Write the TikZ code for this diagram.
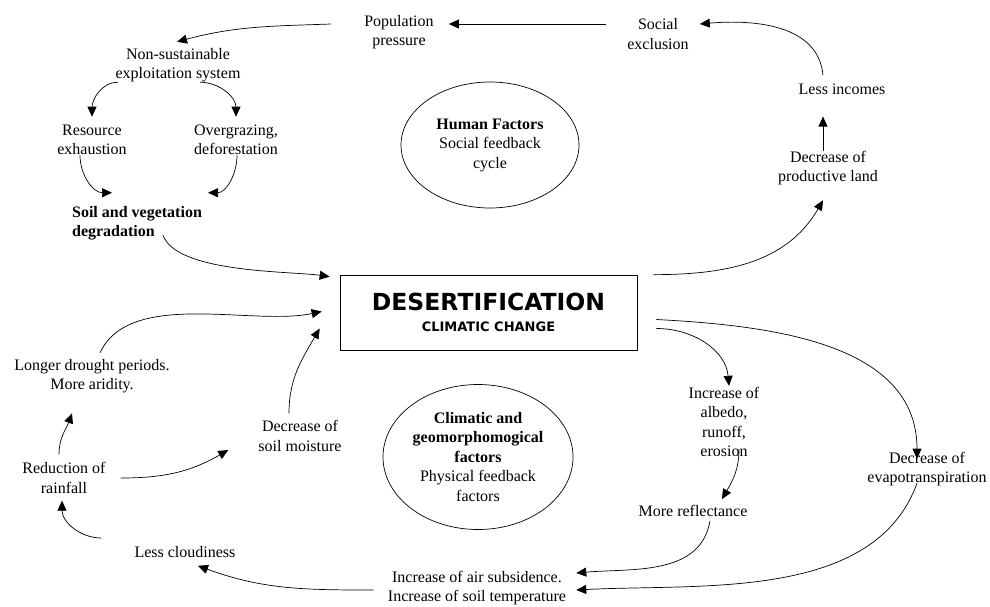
\documentclass[tikz,border=0pt]{standalone}
\usepackage{fontspec}
\setmainfont{Liberation Serif}
\newfontfamily\titlefont{DejaVu Sans}
\usetikzlibrary{arrows.meta, shapes.geometric}

\begin{document}
\begin{tikzpicture}[
  x=1pt, y=-1pt,
  font=\fontsize{16}{19.5}\selectfont,
  txt/.style={align=center, inner sep=0pt},
  factorbox/.style={ellipse, draw, line width=0.7pt, inner sep=0pt, align=center},
  mainbox/.style={draw, line width=0.7pt, minimum width=297pt, minimum height=75pt, align=center, inner sep=0pt},
  link/.style={-{Triangle[length=10pt,width=9pt]}, line width=0.7pt}
]
\useasboundingbox (0,0) rectangle (990,606);

% social feedback loop
\node[txt] (pop) at (399,32) {Population\\pressure};
\node[txt] (excl) at (658,34) {Social\\exclusion};
\node[txt] (nonsust) at (178,65) {Non-sustainable\\exploitation system};
\node[txt] (resource) at (92,140) {Resource\\exhaustion};
\node[txt] (overgraz) at (236,140) {Overgrazing,\\deforestation};
\node[txt, align=left, font=\fontsize{16}{19.5}\selectfont\bfseries] (soil) at (137,223) {Soil and vegetation\\degradation};
\node[txt] (incomes) at (842,89) {Less incomes};
\node[txt] (prodland) at (828,168) {Decrease of\\productive land};
\node[factorbox, minimum width=178pt, minimum height=126pt] (human) at (490,145)
  {\textbf{Human Factors}\\Social feedback\\cycle};

% centre
\node[mainbox] (desert) at (488.5,312.5)
  {{\titlefont\bfseries\fontsize{23.5}{27}\selectfont DESERTIFICATION}\\[1pt]
   {\titlefont\bfseries\fontsize{13}{15}\selectfont CLIMATIC CHANGE}};

% physical feedback loop
\node[txt] (drought) at (92,376) {Longer drought periods.\\More aridity.};
\node[txt] (moisture) at (300,436) {Decrease of\\soil moisture};
\node[txt] (rainfall) at (64,478) {Reduction of\\rainfall};
\node[txt] (cloud) at (185,552) {Less cloudiness};
\node[txt] (subsid) at (477,588) {Increase of air subsidence.\\Increase of soil temperature};
\node[txt] (albedo) at (724,422) {Increase of\\albedo,\\runoff,\\erosion};
\node[txt] (reflect) at (693,511) {More reflectance};
\node[txt] (evapo) at (927,469) {Decrease of\\evapotranspiration};
\node[factorbox, minimum width=190pt, minimum height=145pt] (climatic) at (478,457)
  {\textbf{Climatic and}\\\textbf{geomorphomogical}\\\textbf{factors}\\Physical feedback\\factors};

\draw[link] ([xshift=-21pt,yshift=10pt]excl.west) -- ([xshift=15pt,yshift=8pt]pop.east);
\draw[link] ([xshift=-33pt,yshift=8pt]pop.west) to[out=182,in=15] ([xshift=-1pt,yshift=6pt]nonsust.north);
\draw[link] ([xshift=-60pt]nonsust.south) to[out=180,in=90] ([yshift=8pt]resource.north);
\draw[link] ([xshift=22pt]nonsust.south) to[out=0,in=90] ([yshift=8pt]overgraz.north);
\draw[link] ([xshift=-12pt]resource.south) to[out=-90,in=180] ([xshift=-25pt,yshift=13pt]soil.north);
\draw[link] ([xshift=1pt]overgraz.south) to[out=-90,in=0] ([xshift=71pt,yshift=13pt]soil.north);
\draw[link] ([xshift=26pt,yshift=5pt]soil.south) to[out=-70,in=172,looseness=0.6] ([xshift=-10pt,yshift=-2pt]desert.north west);

\draw[link] ([xshift=16pt]desert.north east) to[out=0,in=240] ([xshift=-5pt,yshift=-15pt]prodland.south);
\draw[link] ([xshift=-5pt]prodland.north) -- ([xshift=-19pt,yshift=-22pt]incomes.south);
\draw[link] ([xshift=-19pt,yshift=8pt]incomes.north) to[out=95,in=5] ([xshift=11pt,yshift=10pt]excl.east);

\draw[link] ([xshift=8pt,yshift=6pt]drought.north) to[out=65,in=192,looseness=0.8] ([xshift=-18pt,yshift=1pt]desert.west);
\draw[link] ([xshift=-11pt,yshift=7pt]moisture.north) to[out=90,in=240] ([xshift=-20pt,yshift=-16pt]desert.west);
\draw[link] ([xshift=-5pt,yshift=8pt]rainfall.north) to[out=90,in=250] ([xshift=-20pt,yshift=-20pt]drought.south);
\draw[link] ([xshift=15pt]rainfall.east) to[out=0,in=210] ([xshift=-30pt,yshift=-14pt]moisture.west);
\draw[link] ([xshift=-33pt,yshift=14pt]cloud.west) to[out=180,in=270] ([xshift=-2pt,yshift=-7pt]rainfall.south);
\draw[link] ([xshift=-14pt,yshift=-2pt]subsid.west) to[out=180,in=-20] ([xshift=13pt,yshift=-8pt]cloud.south);

\draw[link] ([xshift=19pt,yshift=-16pt]desert.east) to[out=0,in=95] ([xshift=5pt,yshift=1pt]albedo.north);
\draw[link] ([xshift=15pt,yshift=8pt]albedo.south) to[out=-90,in=60] ([xshift=29pt,yshift=6pt]reflect.north);
\draw[link] ([xshift=17pt,yshift=-4pt]reflect.south) to[out=-100,in=5] ([xshift=10pt,yshift=15pt]subsid.east);
\draw[link] ([xshift=19pt,yshift=-7pt]desert.east) to[out=-3,in=90] ([xshift=-10pt,yshift=-7pt]evapo.north);
\draw[link] ([xshift=-10pt,yshift=3pt]evapo.south) to[out=-110,in=3,looseness=0.9] ([xshift=10pt,yshift=-2pt]subsid.east);
\end{tikzpicture}
\end{document}
